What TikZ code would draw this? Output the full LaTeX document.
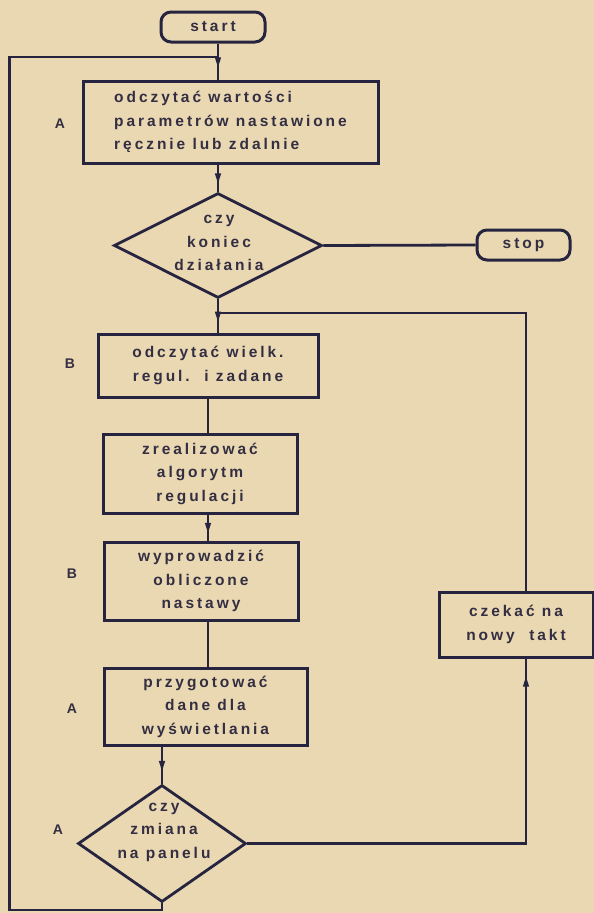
\documentclass[tikz,border=0pt]{standalone}
\usepackage{fontspec}
\newfontfamily\fc{Liberation Sans}[LetterSpace=19,BoldFont=*-Bold,BoldFeatures={LetterSpace=19}]
\usetikzlibrary{shapes.geometric,arrows.meta,decorations.markings}
\definecolor{paper}{RGB}{233,216,178}
\definecolor{ink}{RGB}{38,36,62}
\definecolor{txt}{RGB}{52,46,66}
\begin{document}
\begin{tikzpicture}[x=1pt,y=-1pt,
  line width=2.8pt, draw=ink,
  every node/.style={text=txt,font=\fc\bfseries\fontsize{15.5}{23.5}\selectfont},
  box/.style={draw=ink,line width=3pt,rectangle,inner sep=0pt,align=center},
  term/.style={draw=ink,line width=3pt,rectangle,rounded corners=10pt,inner sep=0pt},
  dia/.style={draw=ink,line width=2.8pt,diamond,inner sep=0pt},
  lab/.style={font=\fc\bfseries\fontsize{14}{15}\selectfont},
  midarrow/.style={decoration={markings,mark=at position #1 with {\fill[ink] (4pt,0pt) -- (-6pt,3.2pt) -- (-6pt,-3.2pt) -- cycle;}},postaction={decorate}},
  midarrow/.default=0.55,
  conn/.style={ink,line width=2.8pt}]
\fill[paper] (0,0) rectangle (594,913);
\useasboundingbox (0,0) rectangle (594,913);

\node[term,minimum width=104,minimum height=30] (start) at (213,27) {start};
\node[box,minimum width=295,minimum height=82,align=left] (b1) at (230.5,122)
  {odczytać wartości\\parametrów nastawione\\ręcznie lub zdalnie};
\node[lab] (la1) at (60,124) {A};
\node[dia,minimum width=208,minimum height=105] (d1) at (218,245.5) {};
\node[align=center] (d1t) at (219,243) {czy\\koniec\\działania};
\node[term,minimum width=93,minimum height=30] (stop) at (523.5,245) {stop};
\node[box,minimum width=220,minimum height=63] (b2) at (208,365.5) {odczytać wielk.\\regul.\ \ i zadane};
\node[lab] (lb1) at (70,364) {B};
\node[box,minimum width=194,minimum height=79] (b3) at (200,473.5) {zrealizować\\algorytm\\regulacji};
\node[box,minimum width=194,minimum height=78] (b4) at (201,581) {wyprowadzić\\obliczone\\nastawy};
\node[lab] (lb2) at (72,574) {B};
\node[box,minimum width=203,minimum height=77] (b5) at (205.5,706.5) {przygotować\\dane dla\\wyświetlania};
\node[lab] (la2) at (72,709) {A};
\node[dia,minimum width=168,minimum height=117] (d2) at (162,843.5) {};
\node[align=center] (d2t) at (164,832) {czy\\zmiana\\na panelu};
\node[lab] (la3) at (58,830) {A};
\node[box,minimum width=154,minimum height=65] (cz) at (516,624.5) {czekać na\\nowy\ \ takt};

\coordinate (jtop) at (218,57);
\coordinate (lb) at (9.5,910);
\coordinate (jd1) at (218,313);
\coordinate (jr) at (526,313);

\draw[conn,midarrow] (start.south -| jtop) -- (b1.north -| jtop);
\draw[conn] (d2.south) |- (lb) |- (jtop);
\draw[conn,midarrow] (b1.south -| d1) -- (d1.north);
\draw[conn] (d1.east) -- (stop.west);
\draw[conn,midarrow] (d1.south) -- (b2.north -| d1);
\draw[conn] (cz.north -| jr) -- (jr) -- (jd1);
\draw[conn] (b2.south) -- (b2.south |- b3.north);
\draw[conn,midarrow] (b3.south -| b2) -- (b4.north -| b2);
\draw[conn] (b4.south -| b2) -- (b5.north -| b2);
\draw[conn,midarrow] (b5.south -| d2) -- (d2.north);
\draw[conn] (d2.east) -| (jr |- cz.south);
\draw[conn,midarrow=0.88] (jr |- d2.east) -- (jr |- cz.south);
\end{tikzpicture}
\end{document}
